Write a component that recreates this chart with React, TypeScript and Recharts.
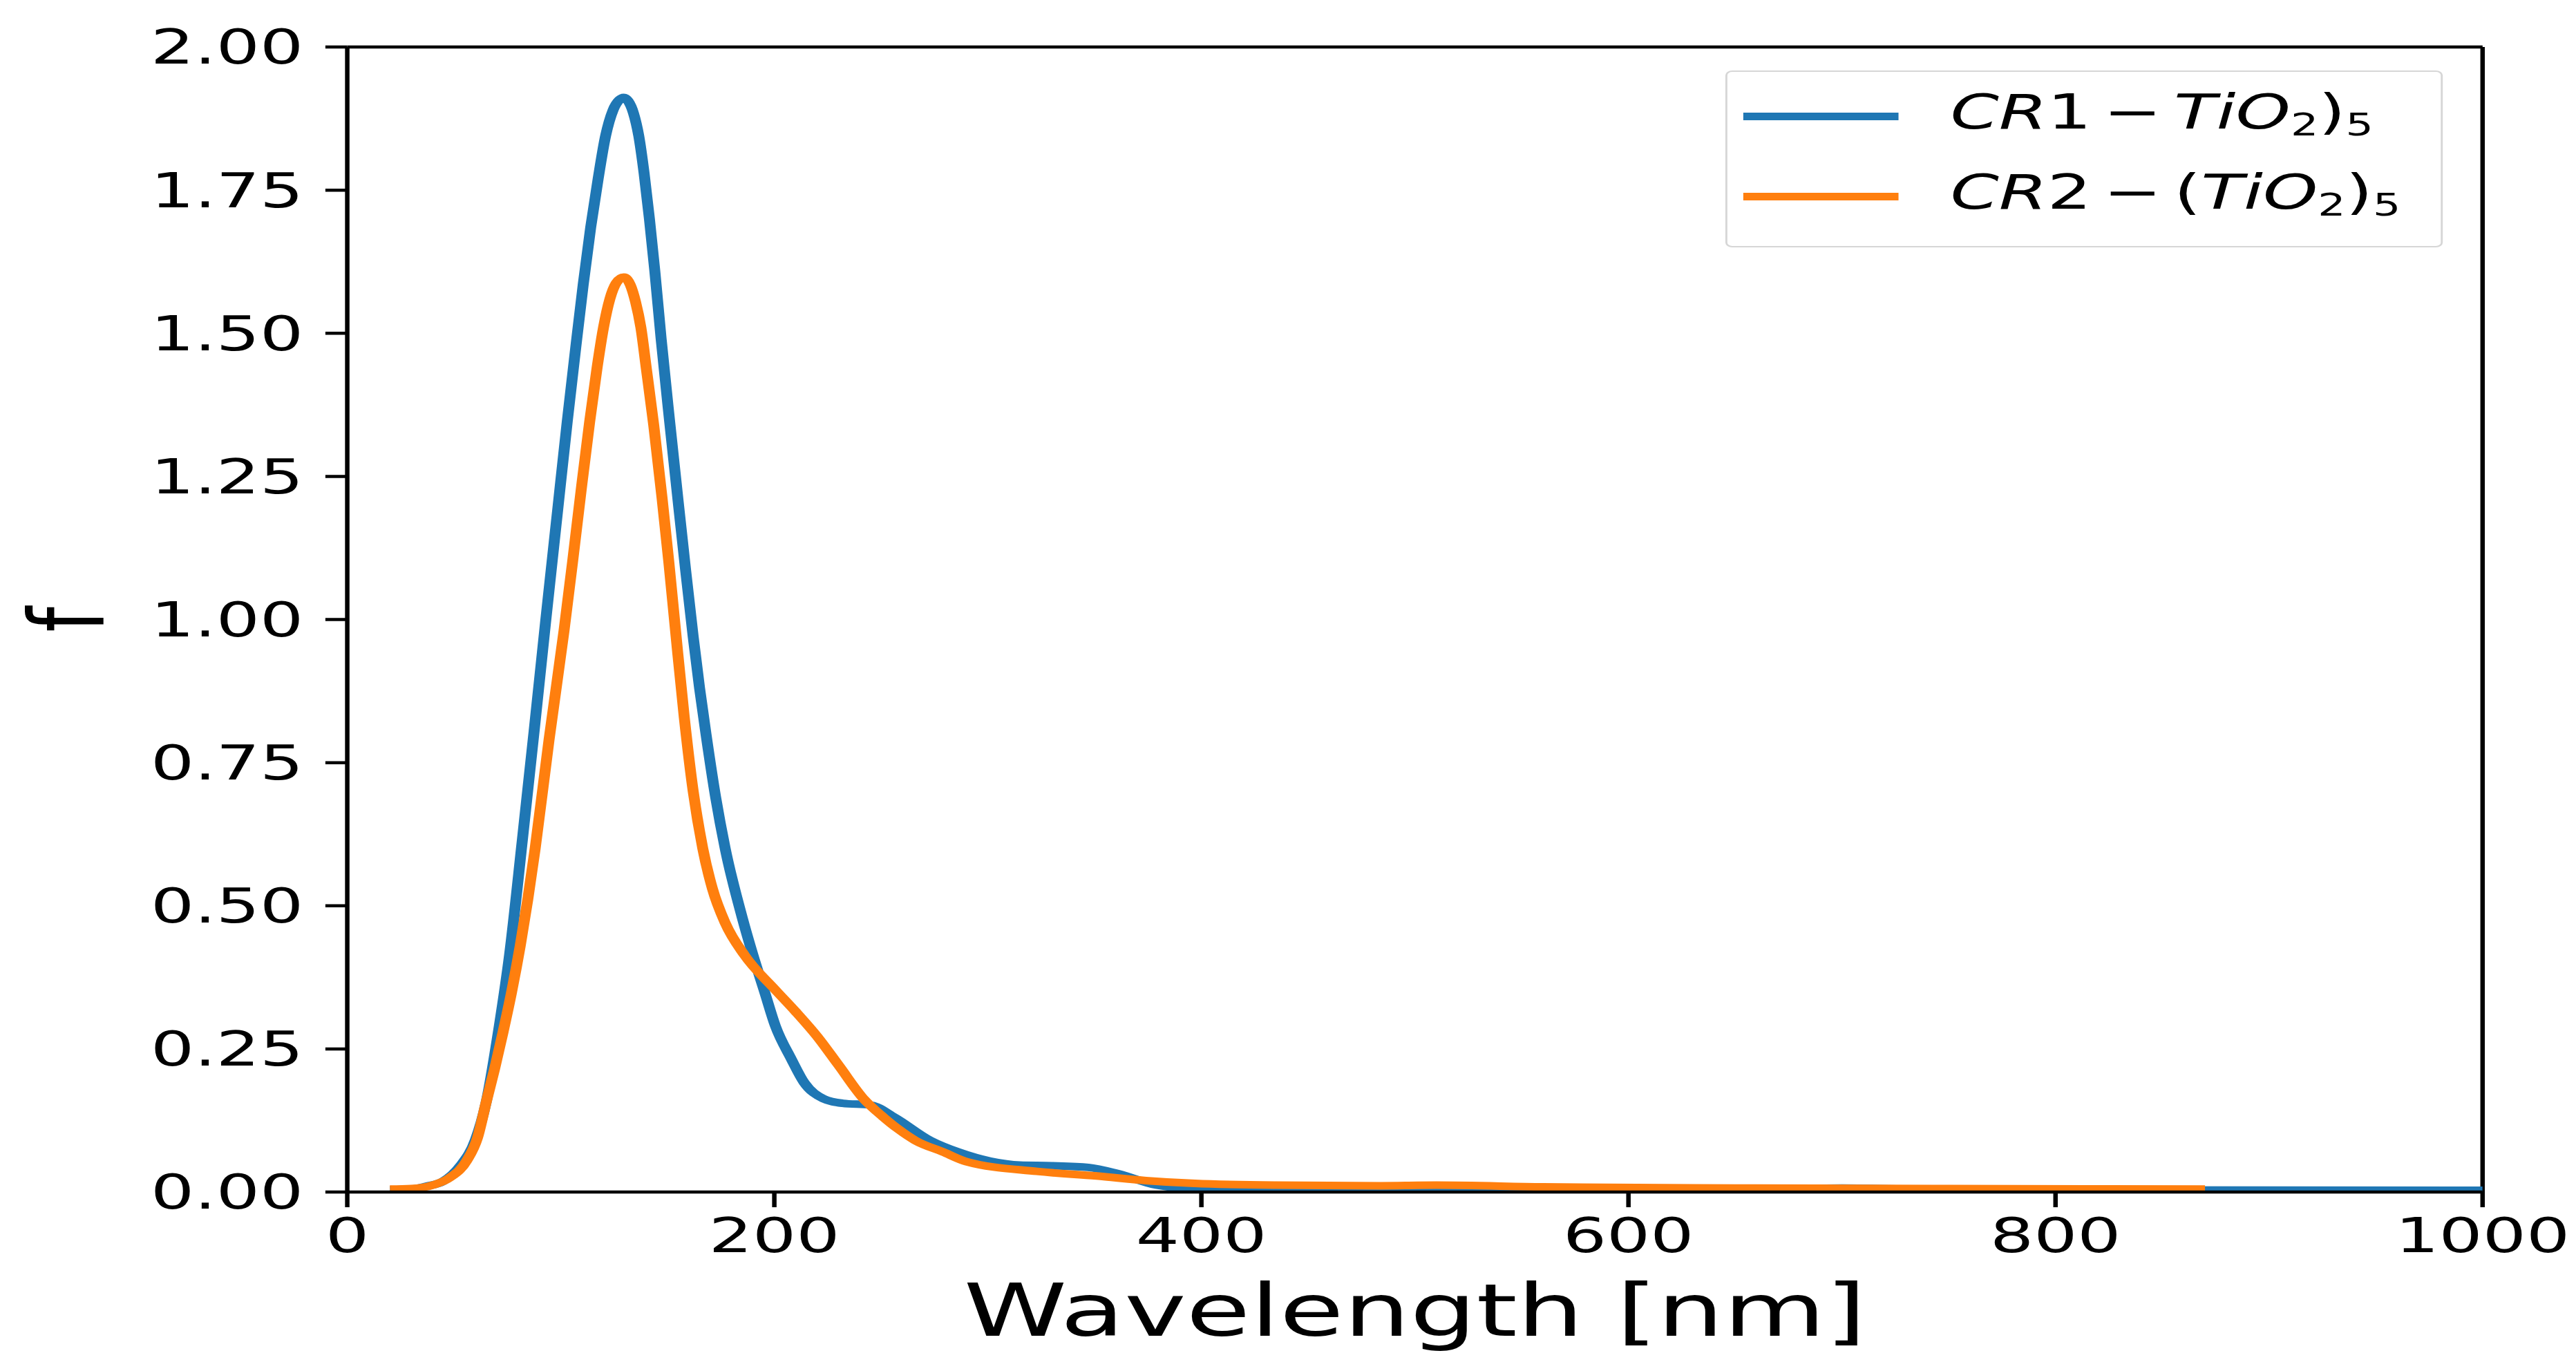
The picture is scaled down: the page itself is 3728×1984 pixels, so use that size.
import { LineChart, Line, XAxis, YAxis, Legend, Label, ReferenceLine } from 'recharts'

// CR1 - TiO2 oscillator strength spectrum
const blueWavelength = [
  20, 30, 37, 45, 53, 60, 65, 71, 76, 82, 87.5, 93, 98.5, 103, 107, 110.5, 114, 117.5, 121,
  124.5, 127.5, 129.5, 131.5, 134, 136.5, 139, 141.5, 144, 147, 151, 155, 158.5, 162, 165, 168,
  172.5, 177, 185, 190, 195.5, 200.5, 208, 214, 223, 232, 245, 256, 273, 286, 301, 315, 330,
  347, 361, 379, 390, 420, 500, 650, 700, 750, 1000,
]
const blueF = [
  0.004, 0.005, 0.01, 0.019, 0.046, 0.091, 0.156, 0.285, 0.414, 0.615, 0.805, 1.0, 1.19, 1.345,
  1.475, 1.585, 1.685, 1.77, 1.845, 1.89, 1.908, 1.912, 1.906, 1.885, 1.845, 1.78, 1.7, 1.61,
  1.49, 1.345, 1.205, 1.085, 0.97, 0.88, 0.8, 0.69, 0.6, 0.479, 0.414, 0.349, 0.29, 0.232,
  0.191, 0.163, 0.155, 0.152, 0.131, 0.09, 0.07, 0.054, 0.047, 0.046, 0.043, 0.032, 0.012,
  0.007, 0.004, 0.004, 0.004, 0.007, 0.004, 0.003,
]

// CR2 - (TiO2)5 oscillator strength spectrum
const orangeWavelength = [
  20, 30, 40, 48, 56, 61, 65, 69, 73, 77, 81, 84.5, 88, 94.5, 101.5, 105.5, 109.5, 113.5, 117,
  120, 123, 126, 129.5, 132.5, 135, 137.5, 140, 143.5, 147.4, 150.6, 153.8, 157.8, 162, 166.5,
  171, 177, 186, 200, 210, 220, 230, 242, 251, 258, 266, 279, 290, 323, 351, 374, 397, 435, 484,
  510, 560, 650, 750, 870,
]
const orangeF = [
  0.005, 0.006, 0.012, 0.025, 0.055, 0.095, 0.156, 0.215, 0.28, 0.35, 0.43, 0.51, 0.6, 0.79,
  0.98, 1.1, 1.225, 1.345, 1.44, 1.51, 1.56, 1.588, 1.598, 1.585, 1.555, 1.51, 1.44, 1.34,
  1.213, 1.1, 0.978, 0.83, 0.7, 0.6, 0.53, 0.47, 0.414, 0.355, 0.315, 0.272, 0.222, 0.162,
  0.131, 0.11, 0.09, 0.07, 0.053, 0.036, 0.028, 0.02, 0.015, 0.012, 0.011, 0.012, 0.009, 0.007,
  0.006, 0.005,
]

const xTicks = [0, 200, 400, 600, 800, 1000]
const yTicks = [0, 0.25, 0.5, 0.75, 1, 1.25, 1.5, 1.75, 2]

const blueData = blueWavelength.map((w, i) => ({ wavelength: w, f: blueF[i] }))
const orangeData = orangeWavelength.map((w, i) => ({ wavelength: w, f: orangeF[i] }))

// the reference figure was stretched sideways, so the whole chart is drawn narrow and scaled
const STRETCH = 1.44
const WIDTH = 3728
const HEIGHT = 1984
const CHART_W = Math.round(WIDTH / STRETCH)

const FONT = 'DejaVu Sans'
const BLUE = '#1f77b4'
const ORANGE = '#ff7f0e'

const axisStyle = { stroke: '#000', strokeWidth: 4.5 }
const tickStyle = { fill: '#000', fontSize: 69, fontFamily: FONT }

const YLabel = (props: any) => {
  const { viewBox } = props
  const x = viewBox.x + 104
  const y = viewBox.y + viewBox.height / 2
  return (
    <text x={x} y={y} transform={`rotate(-90 ${x} ${y})`} textAnchor="middle" fontFamily={FONT} fontSize={104} fill="#000">
      f
    </text>
  )
}

const XLabel = (props: any) => {
  const { viewBox } = props
  return (
    <text x={viewBox.x + viewBox.width / 2} y={viewBox.y + 208} textAnchor="middle" fontFamily={FONT} fontSize={105} fill="#000">
      Wavelength [nm]
    </text>
  )
}

const sub = { fontSize: 44, position: 'relative' as const, top: 10 }
const minus = { margin: '0 12px' }

function LegendRow({ color, top, children }: { color: string; top: number; children: any }) {
  return (
    <div style={{ position: 'absolute', left: 0, top, height: 100, display: 'flex', alignItems: 'center' }}>
      <span style={{ display: 'inline-block', width: 156, height: 11, marginLeft: 16, background: color }} />
      <span style={{ marginLeft: 52, lineHeight: 1, whiteSpace: 'nowrap', position: 'relative', top: -6 }}>{children}</span>
    </div>
  )
}

function MathLegend() {
  return (
    <div
      style={{
        boxSizing: 'border-box',
        position: 'relative',
        width: 721,
        height: 256,
        border: '2px solid #d6d6d6',
        borderRadius: 7,
        background: 'rgba(255,255,255,0.8)',
        fontFamily: FONT,
        fontSize: 70,
        color: '#000',
      }}
    >
      <LegendRow color={BLUE} top={14}>
        <i>CR</i>1<span style={minus}>−</span><i>TiO</i>
        <span style={sub}>2</span>)<span style={sub}>5</span>
      </LegendRow>
      <LegendRow color={ORANGE} top={130}>
        <i>CR</i>2<span style={minus}>−</span>(<i>TiO</i>
        <span style={sub}>2</span>)<span style={sub}>5</span>
      </LegendRow>
    </div>
  )
}

export default function App() {
  return (
    <div style={{ position: 'absolute', left: 0, top: 0, width: WIDTH, height: HEIGHT, overflow: 'hidden', background: '#fff' }}>
      <div style={{ width: CHART_W, height: HEIGHT, transform: `scaleX(${STRETCH})`, transformOrigin: '0 0' }}>
        <LineChart width={CHART_W} height={HEIGHT} margin={{ top: 68, right: 94, bottom: 0, left: 0 }}>
          <XAxis
            dataKey="wavelength"
            type="number"
            domain={[0, 1000]}
            ticks={xTicks}
            interval={0}
            height={259}
            tick={tickStyle}
            tickSize={22}
            tickMargin={16}
            axisLine={axisStyle}
            tickLine={axisStyle}
            allowDataOverflow
          >
            <Label content={<XLabel />} />
          </XAxis>
          <YAxis
            type="number"
            domain={[0, 2]}
            ticks={yTicks}
            interval={0}
            width={349}
            tick={tickStyle}
            tickFormatter={(v: number) => v.toFixed(2)}
            tickSize={22}
            tickMargin={22}
            axisLine={axisStyle}
            tickLine={axisStyle}
            allowDataOverflow
          >
            <Label content={<YLabel />} />
          </YAxis>
          {/* top and right spines */}
          <ReferenceLine y={2} stroke="#000" strokeWidth={4.5} />
          <ReferenceLine x={1000} stroke="#000" strokeWidth={4.5} />
          <Legend
            layout="vertical"
            align="center"
            verticalAlign="middle"
            content={<MathLegend />}
            wrapperStyle={{ left: 1734, top: 102, width: 721, height: 256 }}
          />
          <Line
            data={blueData}
            dataKey="f"
            name="CR1 - TiO2)5"
            type="monotone"
            stroke={BLUE}
            strokeWidth={11}
            dot={false}
            activeDot={false}
            isAnimationActive={false}
          />
          <Line
            data={orangeData}
            dataKey="f"
            name="CR2 - (TiO2)5"
            type="monotone"
            stroke={ORANGE}
            strokeWidth={11}
            dot={false}
            activeDot={false}
            isAnimationActive={false}
          />
        </LineChart>
      </div>
    </div>
  )
}
